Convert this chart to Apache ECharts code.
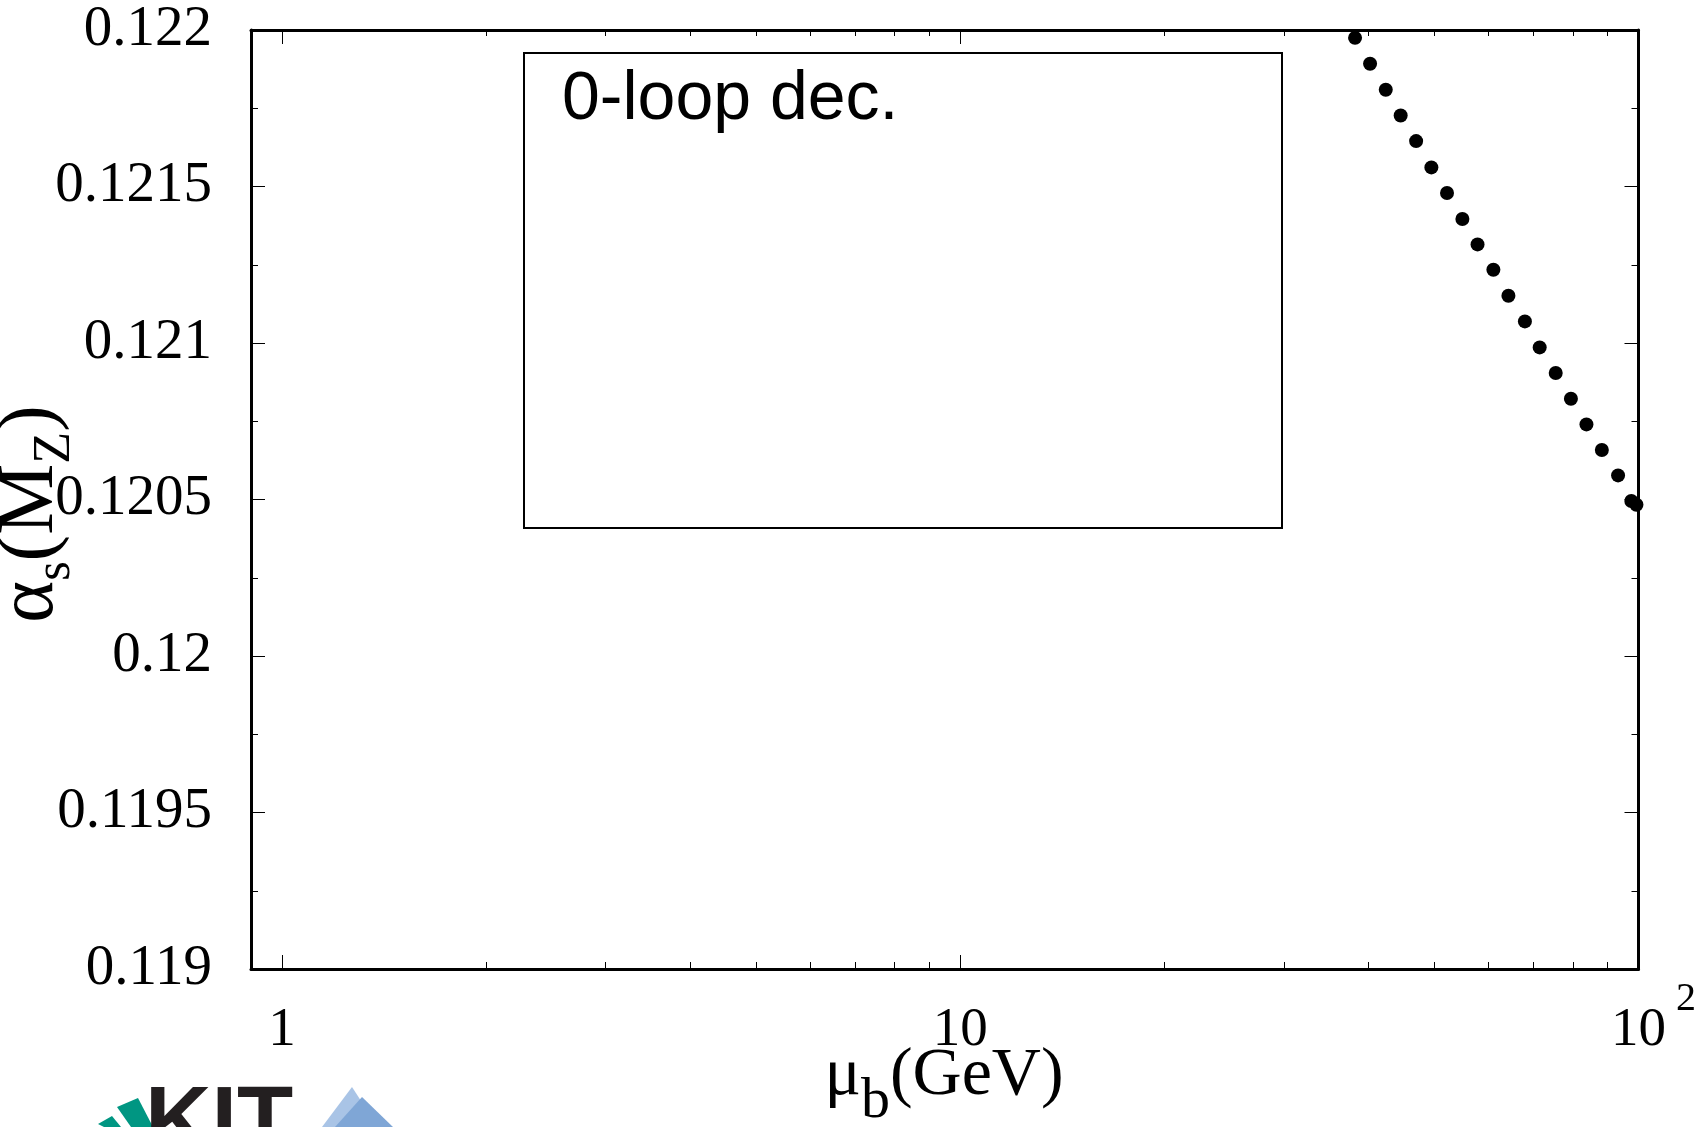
<!DOCTYPE html>
<html>
<head>
<meta charset="utf-8">
<script src="https://cdn.jsdelivr.net/npm/echarts@6/dist/echarts.min.js"></script>
<style>
  html, body { margin: 0; padding: 0; background: #fff; }
  #chart { width: 1699px; height: 1127px; }
</style>
</head>
<body>
<div id="chart"></div>
<script>
// ---- data ----
const muValues = [38.2, 40.2, 42.4, 44.6, 47.0, 49.5, 52.2, 55.0, 57.9, 61.1,
                  64.3, 68.0, 71.5, 75.5, 79.5, 83.8, 88.3, 93.3, 97.6, 99.3];
const alphaValues = [0.121975, 0.121892, 0.121809, 0.121727, 0.121645, 0.121561,
                     0.121479, 0.121396, 0.121315, 0.121234, 0.121151, 0.121069,
                     0.120986, 0.120904, 0.120822, 0.120740, 0.120658, 0.120577,
                     0.120495, 0.120483];
const xMajorTicks = [1, 10, 100];
const xMinorTicks = [2, 3, 4, 5, 6, 7, 8, 9, 20, 30, 40, 50, 60, 70, 80, 90];
const xTickLabels = ['1', '10', '10^2'];
const yTickLabels = ['0.119', '0.1195', '0.12', '0.1205', '0.121', '0.1215', '0.122'];
const insetText = '0-loop dec.';

const serif = 'Liberation Serif';
const sans = 'Liberation Sans';

const chart = echarts.init(document.getElementById('chart'));

function xLabel(v) {
  const i = xMajorTicks.findIndex(t => Math.abs(t - v) / t < 1e-6);
  if (i < 0) return '';
  const s = xTickLabels[i];
  if (s.indexOf('^') >= 0) {
    const p = s.split('^');
    return '{p|}{n|' + p[0] + '}{s|' + p[1] + '}';
  }
  return '{n|' + s + '}';
}
function yLabel(v) {
  const i = Math.round((v - 0.119) / 0.0005);
  return yTickLabels[i] !== undefined ? yTickLabels[i] : '';
}

const baseX = {
  type: 'log', logBase: 10, min: 0.9, max: 100, gridIndex: 0,
  splitLine: { show: false }, minorTick: { show: false }
};
const axisLineStyle = { show: true, onZero: false, lineStyle: { color: '#000', width: 3 } };

const option = {
  animation: false,
  backgroundColor: '#fff',
  grid: { left: 251, right: 59, top: 30, bottom: 158, containLabel: false },
  xAxis: [
    Object.assign({}, baseX, {
      position: 'bottom',
      axisLine: axisLineStyle,
      axisTick: { show: true, inside: true, length: 14, customValues: xMajorTicks,
                  lineStyle: { color: '#000', width: 1 } },
      axisLabel: {
        show: true, customValues: xMajorTicks, formatter: xLabel, margin: 12,
        color: '#000', fontFamily: serif, fontSize: 55,
        rich: {
          n: { fontFamily: serif, fontSize: 55, lineHeight: 100, color: '#000' },
          s: { fontFamily: serif, fontSize: 40, lineHeight: 34, color: '#000',
               padding: [0, 0, 64, 10] },
          p: { width: 30 }
        }
      }
    }),
    Object.assign({}, baseX, {
      position: 'bottom',
      axisLine: { show: false },
      axisTick: { show: true, inside: true, length: 7, customValues: xMinorTicks,
                  lineStyle: { color: '#000', width: 1 } },
      axisLabel: { show: false }
    }),
    Object.assign({}, baseX, {
      position: 'top',
      axisLine: axisLineStyle,
      axisTick: { show: true, inside: true, length: 14, customValues: xMajorTicks,
                  lineStyle: { color: '#000', width: 1 } },
      axisLabel: { show: false }
    }),
    Object.assign({}, baseX, {
      position: 'top',
      axisLine: { show: false },
      axisTick: { show: true, inside: true, length: 6, customValues: xMinorTicks,
                  lineStyle: { color: '#000', width: 1 } },
      axisLabel: { show: false }
    })
  ],
  yAxis: [
    {
      type: 'value', position: 'left', min: 0.119, max: 0.122, interval: 0.0005,
      axisLine: axisLineStyle,
      axisTick: { show: true, inside: true, length: 14, lineStyle: { color: '#000', width: 1 } },
      minorTick: { show: true, splitNumber: 2, length: 7, lineStyle: { color: '#000', width: 1 } },
      splitLine: { show: false }, minorSplitLine: { show: false },
      axisLabel: { show: true, formatter: yLabel, margin: 39, color: '#000',
                   fontFamily: serif, fontSize: 57 }
    },
    {
      type: 'value', position: 'right', min: 0.119, max: 0.122, interval: 0.0005,
      axisLine: axisLineStyle,
      axisTick: { show: true, inside: true, length: 14, lineStyle: { color: '#000', width: 1 } },
      minorTick: { show: true, splitNumber: 2, length: 7, lineStyle: { color: '#000', width: 1 } },
      splitLine: { show: false }, minorSplitLine: { show: false },
      axisLabel: { show: false }
    }
  ],
  series: [{
    type: 'scatter', xAxisIndex: 0, yAxisIndex: 0,
    symbol: 'circle', symbolSize: 14,
    itemStyle: { color: '#000', opacity: 1 },
    silent: true, z: 5,
    data: muValues.map((m, i) => [m, alphaValues[i]])
  }],
  graphic: [
    { type: 'rect', z: 10,
      shape: { x: 524, y: 53, width: 758, height: 475 },
      style: { fill: 'rgba(0,0,0,0)', stroke: '#000', lineWidth: 2 } },
    { type: 'text', z: 10, x: 562, y: 100,
      style: { text: insetText, fontFamily: sans, fontSize: 68, fill: '#000',
               align: 'left', verticalAlign: 'middle' } },
    // x axis name: mu_b(GeV)
    { type: 'text', z: 10, x: 944, y: 1076,
      style: {
        text: '{a|μ}{b|b}{a|(GeV)}', align: 'center', verticalAlign: 'middle',
        rich: {
          a: { fontFamily: serif, fontSize: 68, lineHeight: 100, color: '#000' },
          b: { fontFamily: serif, fontSize: 58, lineHeight: 20, color: '#000',
               padding: [52, 0, 0, 0] }
        }
      } },
    // y axis name: alpha_s(M_Z)
    { type: 'text', z: 10, x: 31, y: 514, rotation: Math.PI / 2,
      style: {
        text: '{a|α}{s|s}{a|(M}{z|Z}{a|)}', align: 'center', verticalAlign: 'middle',
        rich: {
          a: { fontFamily: serif, fontSize: 80, lineHeight: 100, color: '#000' },
          s: { fontFamily: serif, fontSize: 50, lineHeight: 80, verticalAlign: 'bottom', color: '#000' },
          z: { fontFamily: serif, fontSize: 52, lineHeight: 28, verticalAlign: 'bottom', color: '#000' }
        }
      } },
    // logos (approximate)
    { type: 'polygon', z: 10, shape: { points: [[98, 1124], [112, 1116], [121, 1127], [104, 1127]] },
      style: { fill: '#009682' } },
    { type: 'polygon', z: 10, shape: { points: [[117, 1107], [138, 1098], [153, 1127], [131, 1127]] },
      style: { fill: '#009682' } },
    { type: 'text', z: 10, x: 145, y: 1080,
      style: { text: 'KIT', fontFamily: sans, fontWeight: 'bold', fontSize: 92, fill: '#231f20',
               align: 'left', verticalAlign: 'top' } },
    { type: 'polygon', z: 10, shape: { points: [[322, 1127], [352, 1087], [378, 1127]] },
      style: { fill: '#a9c4e6' } },
    { type: 'polygon', z: 10, shape: { points: [[335, 1127], [362, 1097], [393, 1127]] },
      style: { fill: '#7fa6d6' } }
  ]
};
chart.setOption(option);
</script>
</body>
</html>
